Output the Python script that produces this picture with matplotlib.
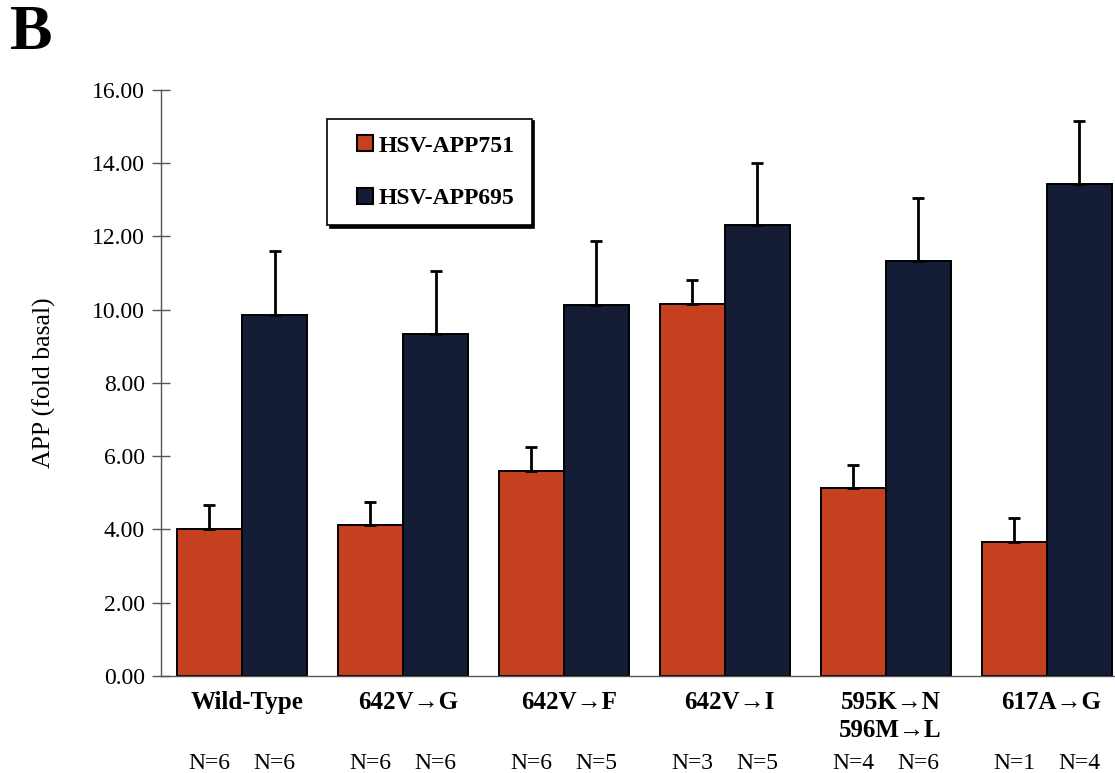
import matplotlib
matplotlib.use("Agg")
import matplotlib.pyplot as plt
import numpy as np
from matplotlib.lines import Line2D

# ---------------- data ----------------
groups = ["Wild-Type", "642V\u2192G", "642V\u2192F", "642V\u2192I",
          "595K\u2192N\n596M\u2192L", "617A\u2192G"]
app751 = [4.02, 4.12, 5.60, 10.15, 5.12, 3.65]
app751_err = [0.65, 0.63, 0.64, 0.65, 0.63, 0.67]
app695 = [9.86, 9.34, 10.12, 12.30, 11.34, 13.44]
app695_err = [1.75, 1.73, 1.75, 1.70, 1.71, 1.72]
n751 = [6, 6, 6, 3, 4, 1]
n695 = [6, 6, 5, 5, 6, 4]
yticks = [0, 2, 4, 6, 8, 10, 12, 14, 16]

RED = "#c4401f"
NAVY = "#151d36"
SERIF = ["Liberation Serif", "DejaVu Serif"]
plt.rcParams["font.family"] = SERIF

fig = plt.figure(figsize=(11.15, 7.73), dpi=100)
ax = fig.add_axes([0.1444, 0.1255, 0.855, 0.7581])

x = np.arange(len(groups))
w = 0.405
err_kw = dict(ecolor="black", elinewidth=2.0, capsize=4, capthick=2.0)
ax.bar(x - w / 2, app751, w, color=RED, edgecolor="black", linewidth=1.4,
       yerr=[np.zeros(len(x)), app751_err], error_kw=err_kw, zorder=2)
ax.bar(x + w / 2, app695, w, color=NAVY, edgecolor="black", linewidth=1.4,
       yerr=[np.zeros(len(x)), app695_err], error_kw=err_kw, zorder=2)

ax.set_xlim(-0.503, 5.42)
ax.set_ylim(0, 16)
ax.set_yticks(yticks)
ax.set_yticklabels([f"{v:.2f}" for v in yticks], fontsize=17)
ax.tick_params(axis="y", direction="inout", length=13, width=1,
               color="#555555", pad=5)
ax.set_xticks([])
for s in ("top", "right"):
    ax.spines[s].set_visible(False)
for s in ("left", "bottom"):
    ax.spines[s].set_color("#555555")
    ax.spines[s].set_linewidth(1.0)

ax.set_ylabel("APP (fold basal)", fontsize=18.5, labelpad=26)

# category labels and N counts
tr = ax.get_xaxis_transform()
for i, g in enumerate(groups):
    ax.text(x[i] + 0.03, -0.026, g, transform=tr, ha="center", va="top",
            fontsize=18, fontweight="bold", linespacing=1.25)
for i in range(len(groups)):
    ax.text(x[i] - w / 2, -0.15, f"N={n751[i]}", transform=tr,
            ha="center", va="center", fontsize=17)
    ax.text(x[i] + w / 2, -0.15, f"N={n695[i]}", transform=tr,
            ha="center", va="center", fontsize=17)

# legend with drop shadow
handles = [Line2D([], [], ls="none", marker="s", ms=12, mfc=RED, mec="black", mew=1.5),
           Line2D([], [], ls="none", marker="s", ms=12, mfc=NAVY, mec="black", mew=1.5)]
leg = ax.legend(handles=handles, labels=["HSV-APP751", "HSV-APP695"],
                loc="upper left", bbox_to_anchor=(0.1742, 0.951),
                prop=dict(family=SERIF, weight="bold", size=17),
                frameon=True, fancybox=False, shadow=dict(color="black", alpha=1),
                handlelength=1.85, handletextpad=-0.35,
                labelspacing=1.3, borderpad=0.7, borderaxespad=0)
leg.get_frame().set_edgecolor("black")
leg.get_frame().set_linewidth(1.2)

fig.text(0.009, 0.993, "B", fontsize=46, fontweight="bold", ha="left", va="top")

fig.savefig("out.png", dpi=100)
